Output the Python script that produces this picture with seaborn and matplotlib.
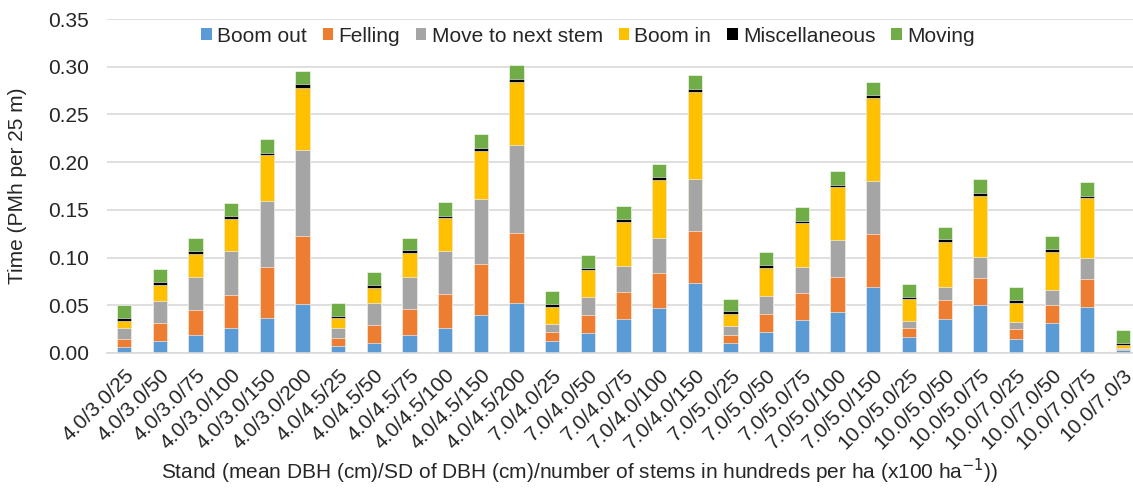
import matplotlib
matplotlib.use("Agg")
import matplotlib.pyplot as plt
from matplotlib.patches import Patch
import numpy as np
import seaborn as sns

stands = ["4.0/3.0/25", "4.0/3.0/50", "4.0/3.0/75", "4.0/3.0/100", "4.0/3.0/150", "4.0/3.0/200",
          "4.0/4.5/25", "4.0/4.5/50", "4.0/4.5/75", "4.0/4.5/100", "4.0/4.5/150", "4.0/4.5/200",
          "7.0/4.0/25", "7.0/4.0/50", "7.0/4.0/75", "7.0/4.0/100", "7.0/4.0/150",
          "7.0/5.0/25", "7.0/5.0/50", "7.0/5.0/75", "7.0/5.0/100", "7.0/5.0/150",
          "10.0/5.0/25", "10.0/5.0/50", "10.0/5.0/75",
          "10.0/7.0/25", "10.0/7.0/50", "10.0/7.0/75", "10.0/7.0/3"]

boom_out = [0.006, 0.013, 0.0185, 0.026, 0.037, 0.051,
            0.007, 0.011, 0.019, 0.026, 0.0395, 0.052,
            0.013, 0.021, 0.036, 0.0475, 0.073,
            0.010, 0.022, 0.035, 0.043, 0.069,
            0.017, 0.036, 0.050,
            0.015, 0.031, 0.048, 0.003]
felling = [0.009, 0.018, 0.0265, 0.035, 0.0535, 0.072,
           0.009, 0.018, 0.027, 0.036, 0.054, 0.074,
           0.009, 0.019, 0.028, 0.0365, 0.055,
           0.0085, 0.019, 0.028, 0.037, 0.0555,
           0.0095, 0.0195, 0.029,
           0.010, 0.0195, 0.030, 0.0014]
move_next = [0.011, 0.023, 0.035, 0.046, 0.0685, 0.090,
             0.0105, 0.0234, 0.034, 0.045, 0.068, 0.092,
             0.0085, 0.019, 0.027, 0.037, 0.054,
             0.010, 0.019, 0.0275, 0.0385, 0.0555,
             0.007, 0.0135, 0.022,
             0.0075, 0.0155, 0.022, 0.0007]
boom_in = [0.008, 0.017, 0.024, 0.033, 0.048, 0.065,
           0.010, 0.0154, 0.025, 0.034, 0.050, 0.066,
           0.018, 0.028, 0.046, 0.060, 0.092,
           0.0125, 0.029, 0.0455, 0.055, 0.087,
           0.023, 0.047, 0.0635,
           0.020, 0.040, 0.062, 0.0035]
misc = [0.003, 0.003, 0.003, 0.0035, 0.003, 0.0036,
        0.0025, 0.0032, 0.003, 0.003, 0.003, 0.003,
        0.0025, 0.0025, 0.0035, 0.0035, 0.003,
        0.0025, 0.0027, 0.0027, 0.003, 0.003,
        0.0025, 0.003, 0.003,
        0.003, 0.003, 0.003, 0.0024]
moving = [0.013, 0.014, 0.014, 0.014, 0.014, 0.014,
          0.013, 0.014, 0.013, 0.014, 0.0145, 0.015,
          0.014, 0.0135, 0.0135, 0.0135, 0.014,
          0.0135, 0.0145, 0.014, 0.014, 0.0145,
          0.0135, 0.0135, 0.0145,
          0.014, 0.0135, 0.014, 0.013]

series_names = ["Boom out", "Felling", "Move to next stem", "Boom in", "Miscellaneous", "Moving"]
series_colors = ["#5B9BD5", "#ED7D31", "#A5A5A5", "#FFC000", "#000000", "#70AD47"]
series_vals = [boom_out, felling, move_next, boom_in, misc, moving]

sns.set_theme(style="white")
plt.rcParams["font.family"] = ["Liberation Sans", "DejaVu Sans"]

FS = 15
fig = plt.figure(figsize=(11.33, 4.91), dpi=100)
ax = fig.add_axes([107 / 1133, 1 - 353 / 491, 1 - 107 / 1133, (353 - 19) / 491])

cum = np.cumsum(np.array(series_vals), axis=0)
for k in range(len(series_names) - 1, -1, -1):
    sns.barplot(x=stands, y=cum[k], color=series_colors[k], width=0.4,
                edgecolor="white", linewidth=0.4, saturation=1, ax=ax, order=stands)

ax.set_ylim(0, 0.35)
ax.set_xlim(-0.48, 28.28)
yt = np.arange(0, 0.351, 0.05)
ax.set_yticks(yt)
ax.set_yticklabels([f"{v:.2f}" for v in yt], fontsize=FS)
ax.yaxis.grid(True, color="#d9d9d9", linewidth=1.2)
ax.set_axisbelow(True)
for s in ["top", "right", "left"]:
    ax.spines[s].set_visible(False)
ax.spines["bottom"].set_color("#d9d9d9")
ax.spines["bottom"].set_linewidth(1.2)
ax.tick_params(axis="both", length=0)
ax.tick_params(axis="y", pad=13)
ax.set_xticks(range(len(stands)))
ax.set_xticklabels(stands, rotation=45, ha="right", rotation_mode="anchor", fontsize=FS)
ax.tick_params(axis="x", pad=9)
ax.set_xlabel("")
ax.set_ylabel("")

fig.text(18 / 1133, 1 - 186 / 491, "Time (PMh per 25 m)", rotation=90, ha="center", va="center", fontsize=FS)
fig.text(580 / 1133, 1 - 471 / 491,
         "Stand (mean DBH (cm)/SD of DBH (cm)/number of stems in hundreds per ha (x100 ha$^{-1}$))",
         ha="center", va="center", fontsize=FS)

handles = [Patch(facecolor=c, edgecolor="none", label=n) for n, c in zip(series_names, series_colors)]
fig.legend(handles=handles, loc="center", bbox_to_anchor=(588 / 1133, 1 - 36 / 491), ncol=6,
           frameon=False, fontsize=FS, handlelength=0.5, handleheight=0.5, handletextpad=0.25,
           columnspacing=0.77)

fig.savefig("out.png", dpi=100)
